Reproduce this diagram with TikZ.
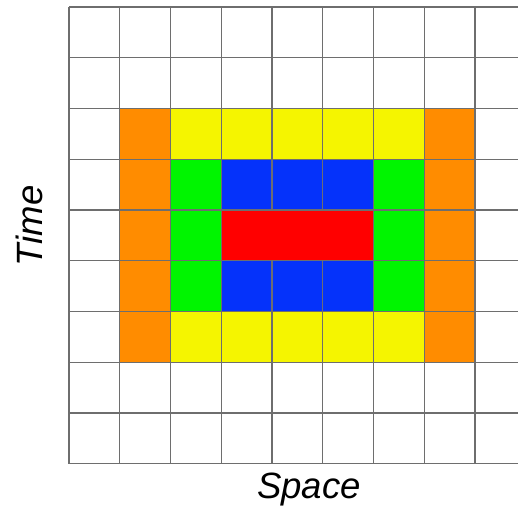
\documentclass[tikz,border=0pt]{standalone}
\usepackage{fontspec}
\setmainfont{Liberation Sans}
\definecolor{cellorange}{RGB}{255,140,0}
\definecolor{cellyellow}{RGB}{245,245,0}
\definecolor{cellgreen}{RGB}{0,245,0}
\definecolor{cellblue}{RGB}{5,50,250}
\definecolor{cellred}{RGB}{255,0,0}
\definecolor{gridgray}{RGB}{110,110,110}
\begin{document}
\begin{tikzpicture}[gridline/.style={gridgray, line width=0.6pt},
                    axislabel/.style={font=\itshape\fontsize{20.5}{24}\selectfont}]
            \useasboundingbox (-1.360,-0.926) rectangle (8.847,9.138);
            \clip (-1.360,-0.926) rectangle (8.847,9.138);

            % Outer ring
            \fill[cellorange] (1,2) rectangle (2,7);
            \fill[cellorange] (7,2) rectangle (8,7);
            \fill[cellyellow] (2,6) rectangle (7,7);
            \fill[cellyellow] (2,2) rectangle (7,3);

            % Inner ring
            \fill[cellgreen] (2,3) rectangle (3,6);
            \fill[cellgreen] (6,3) rectangle (7,6);
            \fill[cellblue] (3,5) rectangle (6,6);
            \fill[cellblue] (3,3) rectangle (6,4);

            % Grid
            \foreach \x in {0,...,8}
                \draw[gridline] (\x,0) -- (\x,9);
            \foreach \y in {0,...,9}
                \draw[gridline] (0,\y) -- (9,\y);

            % Centre
            \filldraw[fill=cellred, draw=gridgray, line width=0.6pt] (3,4) rectangle (6,5);

            % Axis labels
            \node[axislabel, rotate=90] (time) at (-0.78,4.69) {Time};
            \node[axislabel] (space) at (4.73,-0.50) {Space};
        \end{tikzpicture}
\end{document}
